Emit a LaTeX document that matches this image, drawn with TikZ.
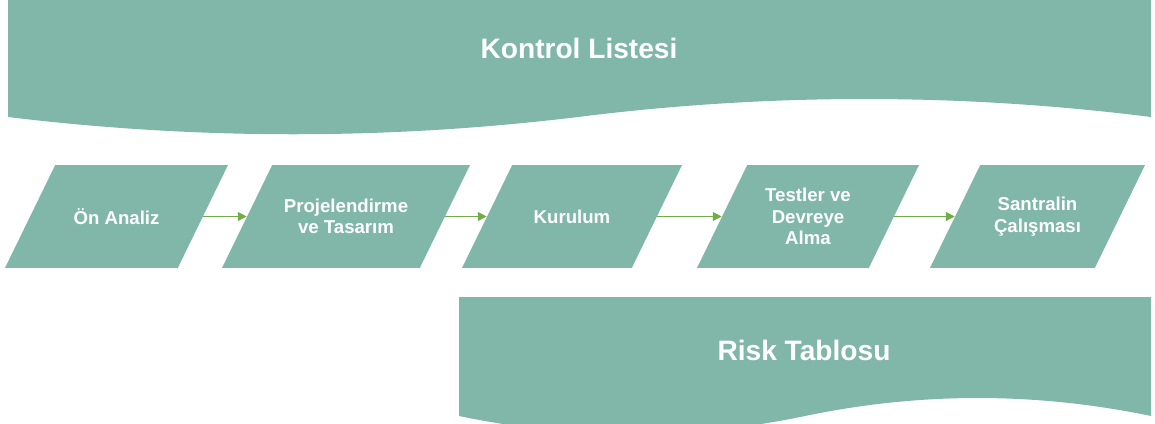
\documentclass[tikz,border=0pt]{standalone}
\usepackage{fontspec}
\setmainfont{Liberation Sans}
\usepackage{tikz}
\usetikzlibrary{arrows.meta, shapes.geometric}

\definecolor{sage}{RGB}{128,183,168}
\definecolor{flowgreen}{RGB}{112,173,71}

\begin{document}
\begin{tikzpicture}[
                    x=0.02cm, y=-0.02cm,
                    stage/.style={trapezium, trapezium left angle=64, trapezium right angle=116, fill=sage, inner ysep=1.03cm, minimum size=0pt},
                    stagetext/.style={text=white, align=center, inner sep=0pt, font=\bfseries\fontsize{10.6}{12.2}\selectfont},
                    banner/.style={fill=sage},
                    title/.style={text=white, font=\bfseries\fontsize{16}{19}\selectfont},
                    flow/.style={flowgreen, line width=0.7pt, -{Triangle[length=5pt, width=5pt]}}
                ]
                \useasboundingbox (0,0) rectangle (1155,423);
                \begin{scope}
                    \clip (0,0) rectangle (1155,423);
                    % top banner
                    \fill[banner] (8,0) -- (1151,0) -- (1151,117) .. controls (960,93) and (769,93) .. (578,117) .. controls (388,140) and (198,140) .. (8,117) -- cycle;
                    % bottom banner
                    \fill[banner] (459,297) -- (1151,297) -- (1151,416) .. controls (1036,392) and (920,392) .. (805,416) .. controls (690,440) and (574,440) .. (459,416) -- cycle;
                \end{scope}
                \node[title] (ctrl) at (579,48) {Kontrol Listesi};
                \node[title] (risk) at (804,350) {Risk Tablosu};

                \foreach \x/\w/\i/\txt in {116.5/1.226/1/{Ön Analiz}, 346/1.476/2/{Projelendirme\\ve Tasarım}, 572/1.196/3/{Kurulum}, 808/1.216/4/{Testler ve\\Devreye\\Alma}, 1037.5/1.146/5/{Santralin\\Çalışması}}{
                        \node[stage, inner xsep=\w cm] (s\i) at (\x,216.5) {};
                        \node[stagetext] (t\i) at (s\i.center) {\txt};
                    }
                \foreach \a/\b in {1/2,2/3,3/4,4/5}{
                        \draw[flow] (s\a.east) -- (s\b.west);
                    }
            \end{tikzpicture}
\end{document}
